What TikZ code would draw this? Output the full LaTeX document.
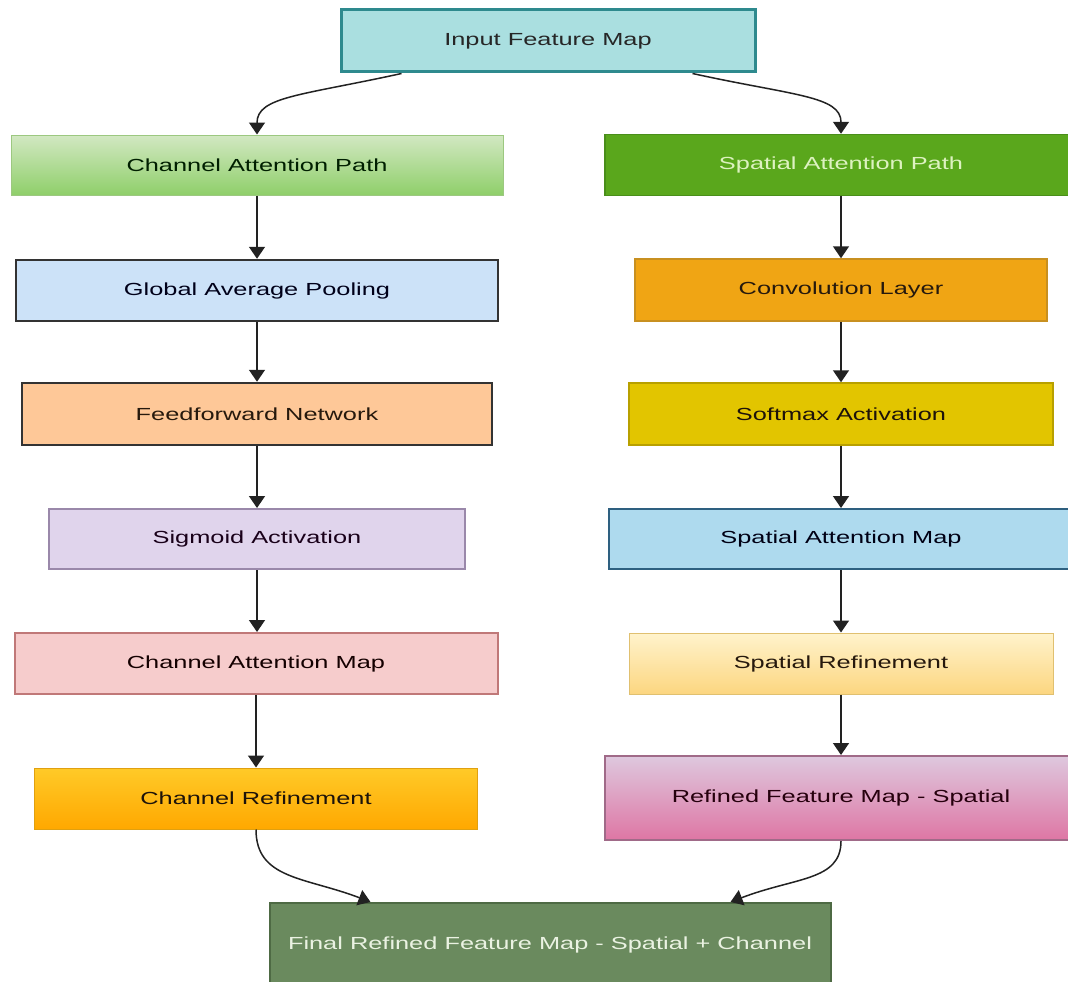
\documentclass[tikz,border=0pt]{standalone}
\usepackage{fontspec}
\setmainfont{Liberation Sans}[FakeStretch=1.45]
\usetikzlibrary{arrows.meta,calc}
\definecolor{inpfill}{HTML}{AADFE0}
\definecolor{inpdraw}{HTML}{2E8A8E}
\definecolor{captop}{HTML}{D2E8C2}
\definecolor{capbot}{HTML}{8FCF6A}
\definecolor{capdraw}{HTML}{9CC880}
\definecolor{sapfill}{HTML}{5AA71C}
\definecolor{sapdraw}{HTML}{4A8E1A}
\definecolor{saptext}{HTML}{DDF2C0}
\definecolor{gapfill}{HTML}{CCE2F8}
\definecolor{convfill}{HTML}{F0A514}
\definecolor{convdraw}{HTML}{C89020}
\definecolor{ffnfill}{HTML}{FEC898}
\definecolor{softfill}{HTML}{E2C500}
\definecolor{softdraw}{HTML}{B8A000}
\definecolor{sigfill}{HTML}{E0D4EC}
\definecolor{sigdraw}{HTML}{9A88AA}
\definecolor{samfill}{HTML}{AEDAEE}
\definecolor{samdraw}{HTML}{2E6080}
\definecolor{camfill}{HTML}{F6CCCC}
\definecolor{camdraw}{HTML}{C07878}
\definecolor{srtop}{HTML}{FFF3CC}
\definecolor{srbot}{HTML}{FCD680}
\definecolor{srdraw}{HTML}{E0C070}
\definecolor{crtop}{HTML}{FFCA28}
\definecolor{crbot}{HTML}{FFA800}
\definecolor{crdraw}{HTML}{E0A010}
\definecolor{rfstop}{HTML}{DEC8DE}
\definecolor{rfsbot}{HTML}{DE76A4}
\definecolor{rfsdraw}{HTML}{A06A88}
\definecolor{finfill}{HTML}{6A8A5E}
\definecolor{findraw}{HTML}{4E6A44}
\definecolor{fintext}{HTML}{EAF2E2}
\definecolor{arrowc}{HTML}{222222}
\begin{document}
\begin{tikzpicture}[x=1pt,y=-1pt,
  box/.style={rectangle, inner sep=0pt, font=\fontsize{17.5}{21}\selectfont, text=black!85},
  conn/.style={draw=arrowc, line width=1.5pt, -{Triangle[width=16pt,length=12pt]}}]
\fill[white] (0,0) rectangle (1068,982);
\useasboundingbox (0,0) rectangle (1068,982);
\clip (0,0) rectangle (1068,982);

\node[box, minimum width=414, minimum height=62, fill=inpfill, draw=inpdraw, line width=3pt] (inp) at (548,41) {Input Feature Map};

\node[box, minimum width=492, minimum height=60, top color=captop, bottom color=capbot, draw=capdraw, line width=1pt, text=black!80!green!60!black] (cap) at (257,165) {Channel Attention Path};
\node[box, minimum width=472, minimum height=61, fill=sapfill, draw=sapdraw, line width=1.5pt, text=saptext] (sap) at (841,165) {Spatial Attention Path};

\node[box, minimum width=482, minimum height=61, fill=gapfill, draw=black!80, line width=2.5pt, text=black!80!blue!50!black] (gap) at (257,290.5) {Global Average Pooling};
\node[box, minimum width=412, minimum height=62, fill=convfill, draw=convdraw, line width=1.5pt, text=black!80!brown] (conv) at (841,290) {Convolution Layer};

\node[box, minimum width=470, minimum height=62, fill=ffnfill, draw=black!80, line width=2.5pt, text=black!80!brown] (ffn) at (257,414) {Feedforward Network};
\node[box, minimum width=424, minimum height=62, fill=softfill, draw=softdraw, line width=1.5pt, text=black!85!brown] (soft) at (841,414) {Softmax Activation};

\node[box, minimum width=416, minimum height=60, fill=sigfill, draw=sigdraw, line width=2pt, text=black!80!violet] (sig) at (257,539) {Sigmoid Activation};
\node[box, minimum width=464, minimum height=60, fill=samfill, draw=samdraw, line width=2pt, text=black!80!blue!40!black] (sam) at (841,539) {Spatial Attention Map};

\node[box, minimum width=483, minimum height=61, fill=camfill, draw=camdraw, line width=2pt, text=black!80!red!40!black] (cam) at (256,663.5) {Channel Attention Map};
\node[box, minimum width=424, minimum height=61, top color=srtop, bottom color=srbot, draw=srdraw, line width=1pt, text=black!80!brown] (sr) at (841,663.5) {Spatial Refinement};

\node[box, minimum width=443, minimum height=61, top color=crtop, bottom color=crbot, draw=crdraw, line width=1pt, text=black!85!brown] (cr) at (256,798.5) {Channel Refinement};
\node[box, minimum width=472, minimum height=84, top color=rfstop, bottom color=rfsbot, draw=rfsdraw, line width=2pt, text=black!80!purple] (rfs) at (841,798) {Refined Feature Map - Spatial};

\node[box, minimum width=561, minimum height=84, fill=finfill, draw=findraw, line width=2pt, text=fintext] (fin) at (550,945) {Final Refined Feature Map - Spatial + Channel};

% top curved connectors
\draw[conn] ($(inp.south west)+(62,0)$) .. controls +(-100,22) and +(0,-38) .. (cap.north);
\draw[conn] ($(inp.south east)+(-64,0)$) .. controls +(100,22) and +(0,-38) .. (sap.north);

% left column
\draw[conn] (cap.south) -- (cap.south |- gap.north);
\draw[conn] (gap.south) -- (gap.south |- ffn.north);
\draw[conn] (ffn.south) -- (ffn.south |- sig.north);
\draw[conn] (sig.south) -- (sig.south |- cam.north);
\draw[conn] (cam.south) -- (cam.south |- cr.north);

% right column
\draw[conn] (sap.south) -- (sap.south |- conv.north);
\draw[conn] (conv.south) -- (conv.south |- soft.north);
\draw[conn] (soft.south) -- (soft.south |- sam.north);
\draw[conn] (sam.south) -- (sam.south |- sr.north);
\draw[conn] (sr.south) -- (sr.south |- rfs.north);

% bottom curved connectors
\draw[conn] (cr.south) .. controls +(0,50) and +(-65,-25) .. ($(fin.north west)+(102,0)$);
\draw[conn] (rfs.south) .. controls +(0,40) and +(65,-25) .. ($(fin.north west)+(462,0)$);
\end{tikzpicture}
\end{document}
